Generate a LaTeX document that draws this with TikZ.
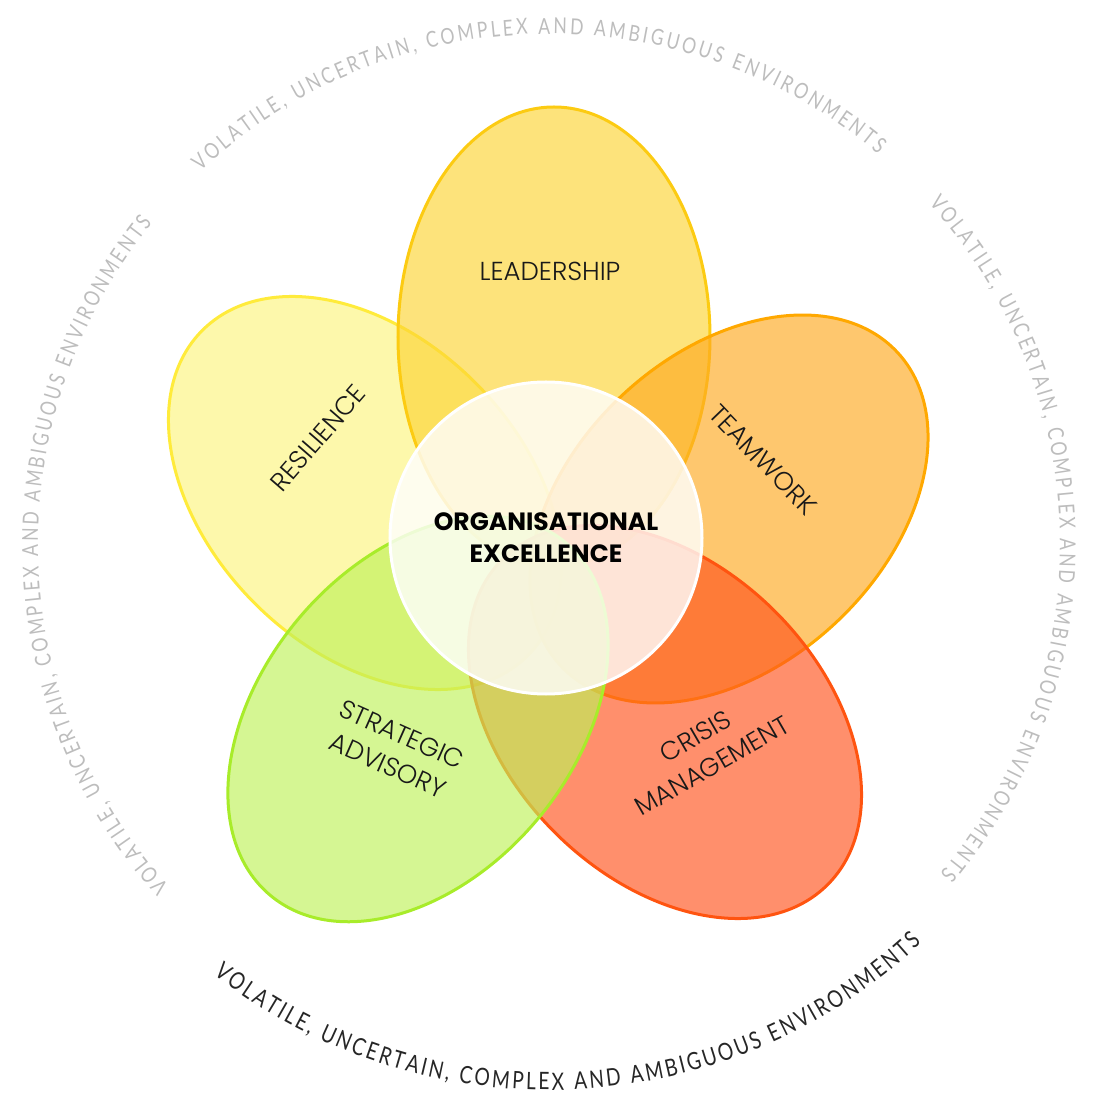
\documentclass[tikz,border=0pt]{standalone}
\usepackage{fontspec}
\setmainfont{Poppins}
\newfontfamily\petalfont{Poppins Light}
\newfontfamily\ringfont[FakeStretch=0.8]{Lato}
\usetikzlibrary{shapes.geometric,decorations.text}
\definecolor{resfill}{HTML}{FCF47E}\definecolor{resline}{HTML}{FFEB3B}
\definecolor{leadfill}{HTML}{FCD434}\definecolor{leadline}{HTML}{FCCB12}
\definecolor{teamfill}{HTML}{FEA920}\definecolor{teamline}{HTML}{FFA800}
\definecolor{crisfill}{HTML}{FF531D}\definecolor{crisline}{HTML}{FF5410}
\definecolor{stratfill}{HTML}{BEF159}\definecolor{stratline}{HTML}{A8EC2A}
\definecolor{ringgray}{HTML}{BDBDBD}
\begin{document}
\begin{tikzpicture}[x=1pt,y=1pt,
  petal/.style={ellipse, draw, line width=3pt, minimum width=460pt, minimum height=312pt, inner sep=0pt, fill opacity=0.65},
  petaltext/.style={font=\petalfont\fontsize{26}{34}\selectfont, align=center, text=black!90},
  hub/.style={circle, minimum size=312pt, inner sep=0pt, fill=white, fill opacity=0.8, text opacity=1, draw=white, line width=3pt, font=\bfseries\fontsize{25}{32}\selectfont, align=center},
  ringtext/.style={decorate, decoration={text along path, text align={fit to path}, text={|#1|VOLATILE, UNCERTAIN, COMPLEX AND AMBIGUOUS ENVIRONMENTS}}}]
\useasboundingbox (-546,-563) rectangle (548,536);
% petals
\node[petal, draw=resline, fill=resfill, rotate=135] (resilience) at (-181,43) {};
\node[petal, draw=leadline, fill=leadfill, rotate=90] (leadership) at (8,199) {};
\node[petal, draw=teamline, fill=teamfill, rotate=43] (teamwork) at (183,27) {};
\node[petal, draw=crisline, fill=crisfill, rotate=-45] (crisis) at (119,-186) {};
\node[petal, draw=stratline, fill=stratfill, rotate=50] (strategic) at (-128,-183) {};
% centre
\node[hub] (hub) at (0,-2) {ORGANISATIONAL\\EXCELLENCE};
% petal labels
\node[petaltext] (leadtext) at (4,265) {LEADERSHIP};
\node[petaltext, rotate=-46] (teamtext) at (217,76) {TEAMWORK};
\node[petaltext, rotate=49] (restext) at (-228,98) {RESILIENCE};
\node[petaltext, rotate=-24] (strattext) at (-151,-214) {STRATEGIC\\ADVISORY};
\node[petaltext, rotate=30] (cristext) at (158,-215) {CRISIS\\MANAGEMENT};
% ring of text
\path[ringtext={\ringfont\fontsize{22}{24}\selectfont\color{ringgray}}] (3,-9) ++(133:511) arc[start angle=133, end angle=50, radius=511];
\path[ringtext={\ringfont\fontsize{22}{24}\selectfont\color{ringgray}}] (3,-9) ++(42:511) arc[start angle=42, end angle=-40, radius=511];
\path[ringtext={\ringfont\fontsize{22}{24}\selectfont\color{ringgray}}] (3,-9) ++(222:511) arc[start angle=222, end angle=141, radius=511];
\path[ringtext={\ringfont\fontsize{24}{26}\selectfont\color{black!85}}] (3,-9) ++(232:545) arc[start angle=232, end angle=313, radius=545];
\end{tikzpicture}
\end{document}
